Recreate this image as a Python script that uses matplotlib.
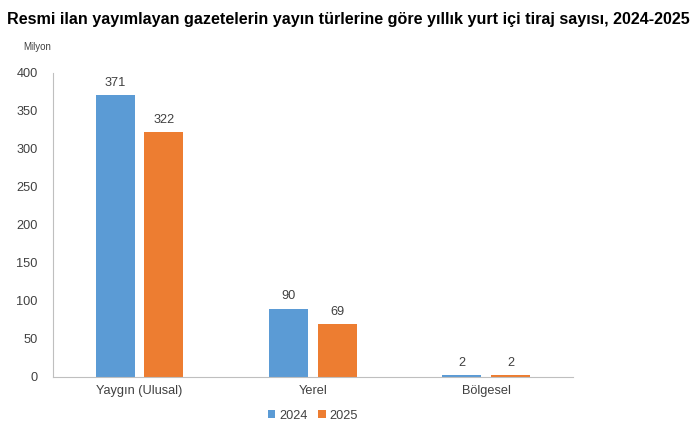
import matplotlib
matplotlib.use('Agg')
import matplotlib.pyplot as plt
import numpy as np

categories = ["Yaygın (Ulusal)", "Yerel", "Bölgesel"]
years = ["2024", "2025"]
values_2024 = [371, 90, 2]
values_2025 = [322, 69, 2]
colors = ["#5B9BD5", "#ED7D31"]

plt.rcParams['font.family'] = ['Liberation Sans', 'DejaVu Sans']

fig = plt.figure(figsize=(6.96, 4.24), dpi=100)
ax = fig.add_axes([0.076, 0.111, 0.747, 0.717])

x = np.arange(len(categories))
w = 0.225
off = 0.141
b1 = ax.bar(x - off, values_2024, w, color=colors[0], label=years[0])
b2 = ax.bar(x + off, values_2025, w, color=colors[1], label=years[1])

for bars in (b1, b2):
    for b in bars:
        ax.text(b.get_x() + b.get_width() / 2, b.get_height() + 8,
                f"{b.get_height():.0f}", ha="center", va="bottom",
                fontsize=9.2, color="#404040")

ax.set_xlim(-0.5, 2.5)
ax.set_ylim(0, 400)
ax.set_yticks(range(0, 401, 50))
ax.set_xticks(x)
ax.set_xticklabels(categories)
ax.tick_params(axis="both", length=0, labelsize=9.2, labelcolor="#404040")
ax.tick_params(axis="y", pad=11)
ax.tick_params(axis="x", pad=6)

for s in ("top", "right"):
    ax.spines[s].set_visible(False)
ax.spines["left"].set_color("#bfbfbf")
ax.spines["bottom"].set_color("#bfbfbf")

fig.text(0.5, 0.955, "Resmi ilan yayımlayan gazetelerin yayın türlerine göre yıllık yurt içi tiraj sayısı, 2024-2025",
         ha="center", va="center", fontsize=11.6, fontweight="bold", color="black")
fig.text(0.034, 0.888, "Milyon", ha="left", va="center", fontsize=7, color="#404040")

ax.legend(loc="upper center", bbox_to_anchor=(0.5, -0.07), ncol=2, frameon=False,
          fontsize=9.2, handlelength=0.6, handleheight=0.6, handletextpad=0.3,
          columnspacing=0.8, labelcolor="#404040")

fig.savefig("out.png", dpi=100, facecolor="white")
